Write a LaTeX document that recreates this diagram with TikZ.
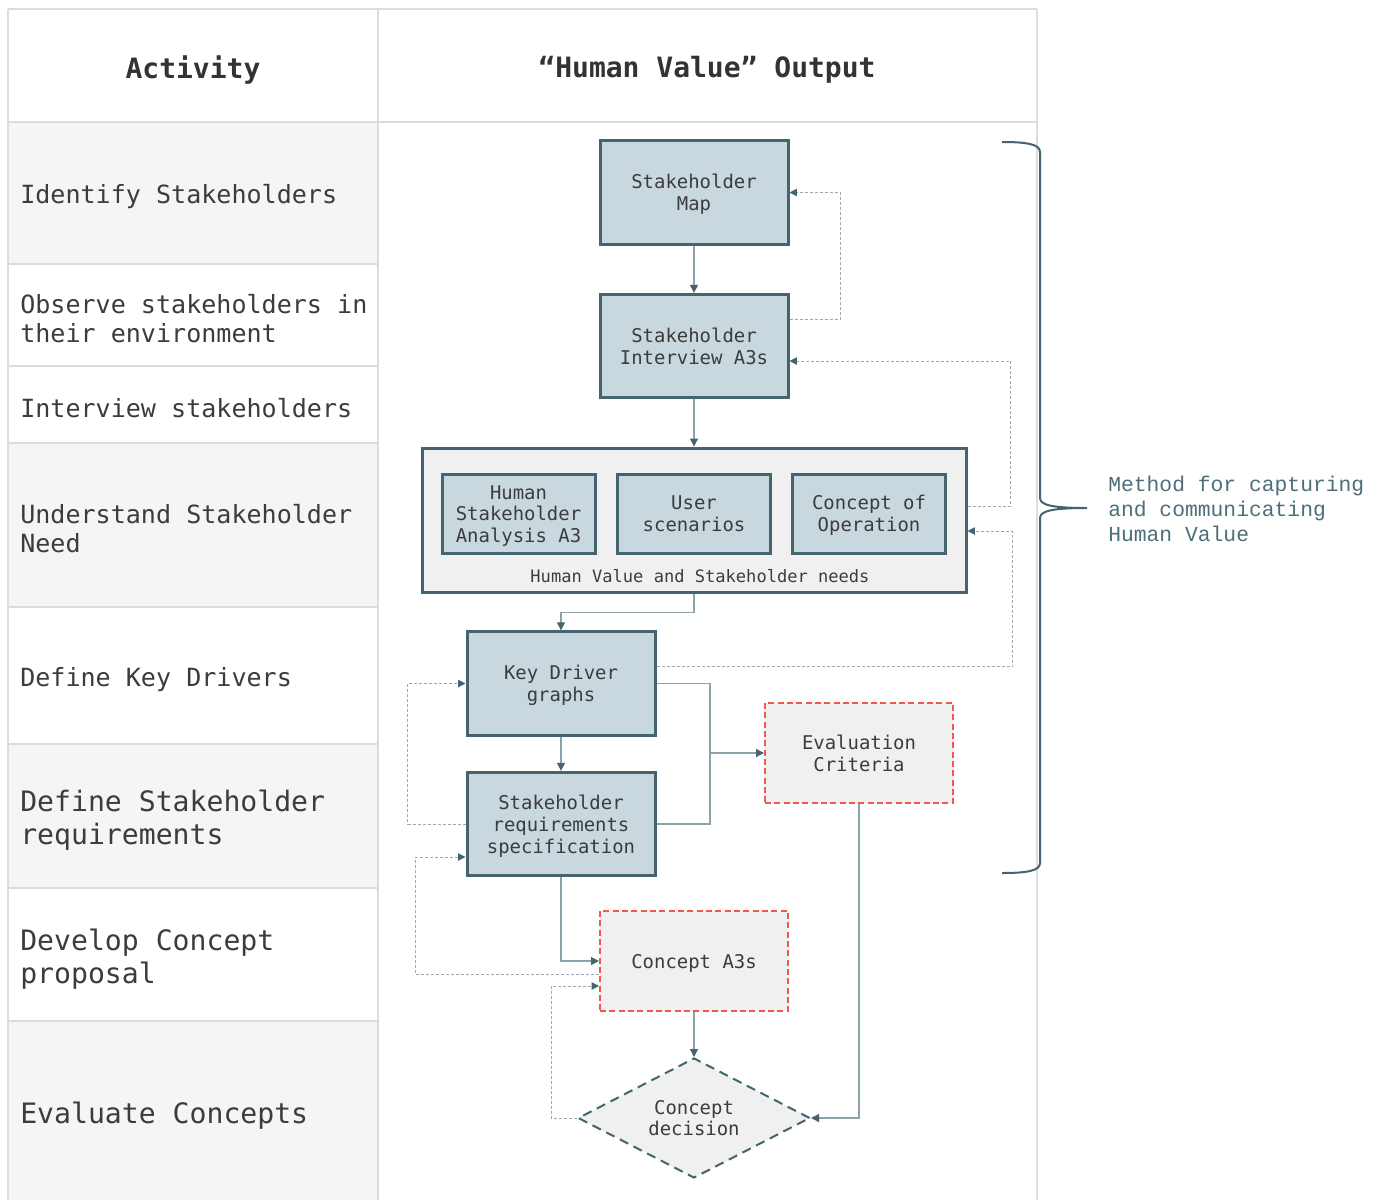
\documentclass[tikz,border=0pt]{standalone}
\usepackage{fontspec}
\setmainfont{DejaVu Sans Mono}
\newfontfamily\labelmono{Liberation Mono}
\usetikzlibrary{arrows.meta,shapes.geometric,calc}

\definecolor{rowgray}{HTML}{F5F5F5}
\definecolor{tablegray}{HTML}{DCDCDC}
\definecolor{boxfill}{HTML}{C9D8DF}
\definecolor{boxedge}{HTML}{44646F}
\definecolor{contfill}{HTML}{F0F0F0}
\definecolor{redge}{HTML}{F5574B}
\definecolor{flowc}{HTML}{8CA3AC}
\definecolor{fbc}{HTML}{9FA9AD}
\definecolor{txt}{HTML}{3C3C3C}
\definecolor{headtxt}{HTML}{333333}
\definecolor{bracetxt}{HTML}{4E6F79}

\newcommand\cellfont{\fontsize{18.8}{21.75}\selectfont}
\newcommand\cellbig{\fontsize{21.1}{24.6}\selectfont}
\newcommand\headfont{\fontsize{21}{24}\selectfont\bfseries}
\newcommand\boxtext{\fontsize{14.2}{16.4}\selectfont}
\newcommand\contfont{\fontsize{12.8}{15}\selectfont}
\newcommand\bracefont{\labelmono\fontsize{16}{18.75}\selectfont}

\begin{document}
\begin{tikzpicture}[x=0.75pt,y=-0.75pt,
  tline/.style={draw=tablegray,line width=1.5pt},
  cell/.style={anchor=west,align=left,inner sep=0pt,text=txt,font=\cellfont},
  cellb/.style={cell,font=\cellbig},
  mbox/.style={draw=boxedge,fill=boxfill,line width=2.25pt,minimum width=141pt,
    minimum height=77.5pt,inner sep=2pt,align=center,text=txt,font=\boxtext,text depth=0pt},
  ibox/.style={mbox,minimum width=114.75pt,minimum height=59.25pt},
  cont/.style={draw=boxedge,fill=contfill,line width=2.25pt,minimum width=408pt,
    minimum height=108pt,inner sep=0pt},
  rbox/.style={draw=redge,fill=contfill,line width=1.5pt,dash pattern=on 4.5pt off 2.5pt,
    minimum width=141pt,minimum height=75pt,inner sep=2pt,align=center,text=txt,
    font=\boxtext,text depth=0pt},
  decbox/.style={diamond,aspect=2,draw=boxedge,fill=contfill,line width=1.5pt,
    dash pattern=on 7pt off 4.5pt,minimum width=174pt,minimum height=90pt,
    inner sep=0pt,align=center,text=txt,font=\boxtext,text depth=0pt},
  flow/.style={draw=flowc,line width=0.9pt,-{Triangle[length=6pt,width=6pt,color=boxedge]}},
  flowline/.style={draw=flowc,line width=0.9pt},
  fb/.style={draw=fbc,line width=0.75pt,dash pattern=on 2.25pt off 1.5pt,
    -{Triangle[length=5.5pt,width=5.5pt,color=boxedge]}},
]
\useasboundingbox (0,0) rectangle (1383,1200);
\fill[white] (0,0) rectangle (1383,1200);

% table body
\fill[rowgray] (8,122) rectangle (378,264);
\fill[rowgray] (8,443) rectangle (378,607);
\fill[rowgray] (8,744) rectangle (378,888);
\fill[rowgray] (8,1021) rectangle (378,1200);
\draw[tline] (8,9) -- (1037,9);
\draw[tline] (8,9) -- (8,1200);
\draw[tline] (378,9) -- (378,1200);
\draw[tline] (1037,9) -- (1037,1200);
\draw[tline] (8,122) -- (1037,122);
\foreach \yy in {264,366,443,607,744,888,1021}
  \draw[tline] (8,\yy) -- (378,\yy);

% headers
\node[font=\headfont,text=headtxt] (hact) at (193,70) {Activity};
\node[font=\headfont,text=headtxt] (hout) at (707,70) {“Human Value” Output};

% activity cells
\node[cell] (a1) at (20,197) {Identify Stakeholders};
\node[cell] (a2) at (20,319) {Observe stakeholders in\\their environment};
\node[cell] (a3) at (20,408) {Interview stakeholders};
\node[cell] (a4) at (20,529) {Understand Stakeholder\\Need};
\node[cell] (a5) at (20,680) {Define Key Drivers};
\node[cellb] (a6) at (20,820) {Define Stakeholder\\requirements};
\node[cellb] (a7) at (20,959) {Develop Concept\\proposal};
\node[cellb] (a8) at (20,1116) {Evaluate Concepts};

% output nodes
\node[mbox] (map) at (694,192.5) {Stakeholder\\Map};
\node[mbox] (int) at (694,346) {Stakeholder\\Interview A3s};
\node[cont] (cont) at (694,520) {};
\node[ibox] (hsa) at (518.5,514) {Human\\Stakeholder\\Analysis A3};
\node[ibox] (us) at (694,513.5) {User\\scenarios};
\node[ibox] (conop) at (869,513.5) {Concept of\\Operation};
\node[font=\contfont,text=txt,inner sep=0pt] (contlbl) at (700,576) {Human Value and Stakeholder needs};
\node[mbox] (kd) at (561,683.5) {Key Driver\\graphs};
\node[mbox] (srs) at (561,824) {Stakeholder\\requirements\\specification};
\node[rbox] (eval) at (859,753) {Evaluation\\Criteria};
\node[rbox] (ca3) at (694,961) {Concept A3s};
\node[decbox] (dec) at (694,1118) {Concept\\decision};

% main flow
\draw[flow] (map.south) -- (int.north);
\draw[flow] (int.south) -- (cont.north);
\draw[flow] (cont.south) -- ++(0,19) -| (kd.north);
\draw[flow] (kd.south) -- (srs.north);
\coordinate (junc) at (710,753);
\draw[flow] (kd.east) -| (junc) -- (eval.west);
\draw[flowline] (srs.east) -| (junc);
\draw[flow] (srs.south) |- (ca3.west);
\draw[flow] (ca3.south) -- (dec.north);
\draw[flow] (eval.south) |- (dec.east);

% feedback loops
\draw[fb] ($(int.east)+(0,-27)$) -| ($(map.east)+(51,0)$) -- (map.east);
\draw[fb] ($(cont.east)+(0,-14)$) -| ($(int.east)+(221,15)$) -- ($(int.east)+(0,15)$);
\draw[fb] ($(kd.east)+(0,-17)$) -| ($(cont.east)+(45,11)$) -- ($(cont.east)+(0,11)$);
\draw[fb] (srs.west) -- ++(-58,0) |- (kd.west);
\draw[fb] ($(ca3.west)+(0,13)$) -| ($(srs.west)+(-50,33)$) -- ($(srs.west)+(0,33)$);
\draw[fb] (dec.west) -| ($(ca3.west)+(-48,25)$) -- ($(ca3.west)+(0,25)$);

% brace and its label
\draw[draw=boxedge,line width=1.5pt]
  (1002,142) .. controls (1026,142) and (1040,144) .. (1040,152) -- (1040,498)
  .. controls (1040,505) and (1052,508) .. (1087,508)
  .. controls (1052,508) and (1040,511) .. (1040,518) -- (1040,863)
  .. controls (1040,871) and (1026,873) .. (1002,873);
\node[anchor=west,align=left,inner sep=0pt,font=\bracefont,text=bracetxt] (blabel)
  at (1108,509) {Method for capturing\\and communicating\\Human Value};
\end{tikzpicture}
\end{document}
